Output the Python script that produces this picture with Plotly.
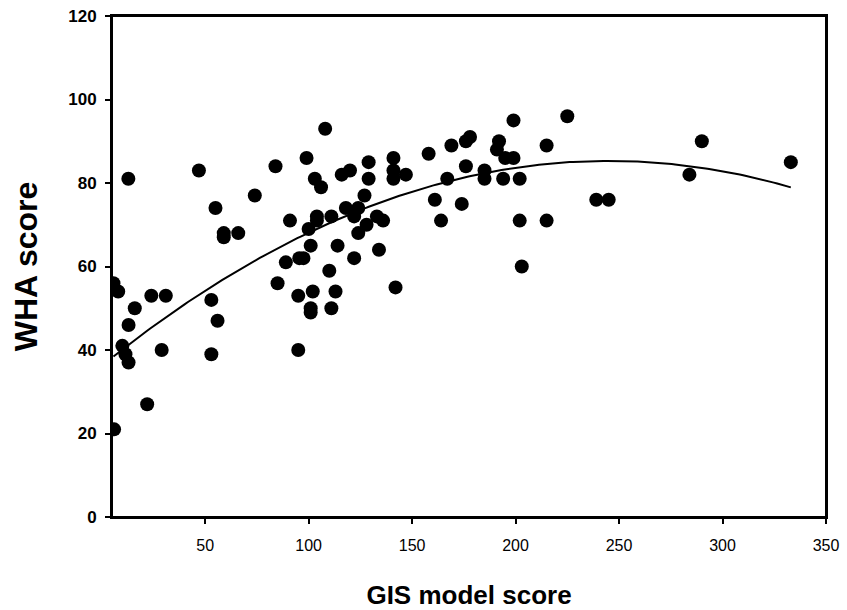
import plotly.graph_objects as go
import numpy as np

# GIS model score (x) and WHA score (y)
gis_score = [5.7, 8, 6, 10, 11.5, 13, 13, 16, 12.9, 22, 24, 31, 29, 47, 53, 56, 53, 55,
             59, 59, 66, 74, 84, 85, 89, 91, 95.5, 97.5, 95, 95, 99, 100, 101, 101, 101,
             102, 103, 104, 104, 106, 108, 110, 111, 111, 113, 114, 116, 118, 120, 122,
             122, 124, 124, 127, 128, 129, 129, 133, 134, 136, 141, 141, 141, 142, 147,
             158, 161, 164, 167, 169, 174, 176, 178, 176, 185, 185, 191, 192, 194, 195,
             199, 199, 202, 202, 203, 215, 215, 225, 239, 245, 284, 290, 333]
wha_score = [56, 54, 21, 41, 39, 37, 46, 50, 81, 27, 53, 53, 40, 83, 52, 47, 39, 74,
             68, 67, 68, 77, 84, 56, 61, 71, 62, 62, 53, 40, 86, 69, 65, 50, 49,
             54, 81, 72, 71, 79, 93, 59, 72, 50, 54, 65, 82, 74, 83, 62,
             72, 74, 68, 77, 70, 85, 81, 72, 64, 71, 86, 83, 81, 55, 82,
             87, 76, 71, 81, 89, 75, 90, 91, 84, 83, 81, 88, 90, 81, 86,
             86, 95, 81, 71, 60, 89, 71, 96, 76, 76, 82, 90, 85]

# quadratic regression curve coefficients (intercept, linear, quadratic) read from the drawn fit
fit_coef = [36.2, 0.4008, -0.000818]

x_ticks = [50, 100, 150, 200, 250, 300, 350]
y_ticks = [0, 20, 40, 60, 80, 100, 120]

curve_x = np.linspace(min(gis_score), max(gis_score), 200)
curve_y = fit_coef[0] + fit_coef[1] * curve_x + fit_coef[2] * curve_x ** 2

font_family = "Arial, Liberation Sans, sans-serif"

fig = go.Figure()
fig.add_trace(go.Scatter(x=gis_score, y=wha_score, mode="markers",
                         marker=dict(color="black", size=14, line=dict(width=0)),
                         showlegend=False, hoverinfo="skip"))
fig.add_trace(go.Scatter(x=curve_x, y=curve_y, mode="lines",
                         line=dict(color="black", width=2),
                         showlegend=False, hoverinfo="skip"))

fig.update_layout(
    width=847, height=610,
    margin=dict(l=112, r=21, t=16, b=93),
    paper_bgcolor="white", plot_bgcolor="white",
    font=dict(family=font_family, color="black"),
    xaxis=dict(range=[5, 350], tickvals=x_ticks, ticktext=[str(v) for v in x_ticks],
               showgrid=False, zeroline=False, showline=True, linecolor="black",
               linewidth=2, mirror=True, ticks="outside", ticklen=5, tickwidth=2,
               tickcolor="black", tickfont=dict(size=16, family=font_family),
               ticklabelstandoff=8, ticklabeloverflow="allow", automargin=False,
               title=dict(text="<b>GIS model score</b>", font=dict(size=26, family=font_family),
                          standoff=55)),
    yaxis=dict(range=[0, 120], tickvals=y_ticks, ticktext=["<b>%d</b>" % v for v in y_ticks],
               showgrid=False, zeroline=False, showline=True, linecolor="black",
               linewidth=2, mirror=True, ticks="outside", ticklen=5, tickwidth=2,
               tickcolor="black", tickfont=dict(size=17, family=font_family),
               ticklabelstandoff=5, ticklabeloverflow="allow", automargin=False,
               title=dict(text="<b>WHA score</b>", font=dict(size=32, family=font_family),
                          standoff=21)),
    # frame around the plotting area (top edge included)
    shapes=[dict(type="rect", xref="paper", yref="paper", x0=0, x1=1, y0=0, y1=1,
                 line=dict(color="black", width=2), fillcolor="rgba(0,0,0,0)", layer="above")],
)

# remove the default page margin so the 847x610 figure fills the window exactly
fig.write_html("out.html",
               config={"displayModeBar": False, "staticPlot": True},
               post_script="document.body.style.margin='0';"
                           "document.documentElement.style.overflow='hidden';")
